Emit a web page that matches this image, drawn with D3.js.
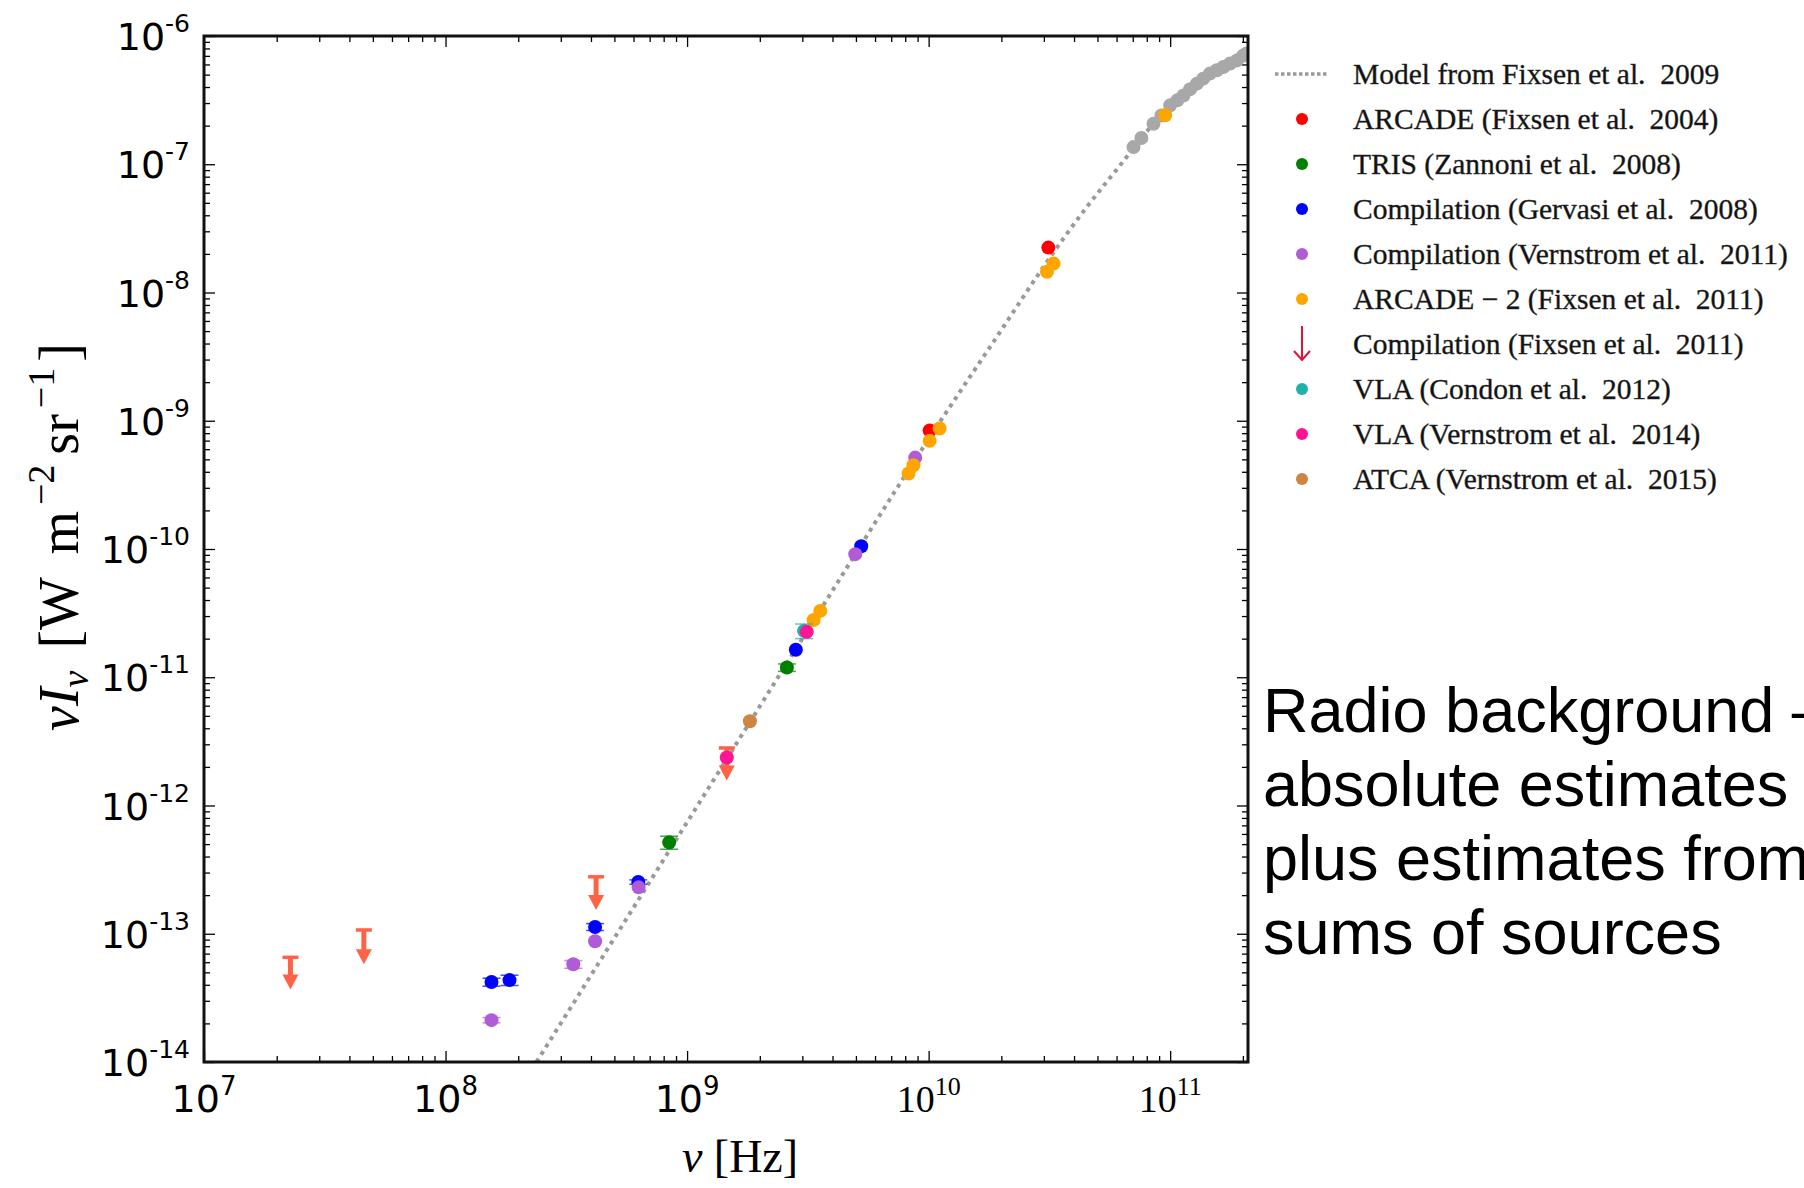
<!DOCTYPE html>
<html>
<head>
<meta charset="utf-8">
<script src="https://cdn.jsdelivr.net/npm/d3@7"></script>
<style>
  body { margin: 0; background: #fff; }
  svg { display: block; }
</style>
</head>
<body>
<svg id="chart"></svg>
<script>
// values: [frequency (Hz), nu*I_nu (W m^-2 sr^-1), error]
var modelLine = [[2.38e8, 1.0e-14], [1e9, 7.4e-13], [3e9, 2.0e-11], [1e10, 7.2e-10], [2e10, 5.1e-9],
  [3e10, 1.6e-8], [4.5e10, 4.6e-8], [6.2e10, 9.8e-8], [8e10, 1.8e-7], [1e11, 2.85e-7],
  [1.3e11, 4.4e-7], [1.6e11, 5.7e-7], [2.1e11, 7.0e-7]];
var firas = [[7.05e10, 1.36e-7], [7.6e10, 1.6e-7], [8.53e10, 2.07e-7], [9.2e10, 2.4e-7], [1.0e11, 2.88e-7],
  [1.07e11, 3.15e-7], [1.135e11, 3.44e-7], [1.21e11, 3.85e-7], [1.29e11, 4.25e-7], [1.37e11, 4.65e-7],
  [1.46e11, 5.09e-7], [1.56e11, 5.4e-7], [1.66e11, 5.73e-7], [1.77e11, 6.1e-7], [1.89e11, 6.45e-7],
  [2.0e11, 7.0e-7], [2.07e11, 7.3e-7]];
var arcade = [[3.13e10, 2.24e-8, 0], [1.01e10, 8.4e-10, 0]];
var tris = [[8.43e8, 5.16e-13, 0.6e-13], [2.59e9, 1.19e-11, 0.8e-12]];
var gervasi = [[1.55e8, 4.2e-14, 0.3e-14], [1.84e8, 4.35e-14, 0.4e-14], [4.16e8, 1.13e-13, 0.7e-14],
  [6.28e8, 2.53e-13, 0.1e-13], [2.82e9, 1.64e-11, 0], [5.26e9, 1.05e-10, 0]];
var vernstrom11 = [[1.55e8, 2.12e-14, 0.1e-14], [3.38e8, 5.78e-14, 0.4e-14], [4.16e8, 8.75e-14, 0],
  [6.3e8, 2.3e-13, 0], [4.97e9, 9.12e-11, 0], [8.8e9, 5.16e-10, 0]];
var arcade2 = [[3.34e9, 2.79e-11, 0], [3.56e9, 3.29e-11, 0], [8.26e9, 3.88e-10, 0], [8.65e9, 4.5e-10, 0],
  [1.01e10, 6.97e-10, 0], [1.11e10, 8.7e-10, 0], [3.09e10, 1.45e-8, 0], [3.29e10, 1.68e-8, 0], [9.53e10, 2.41e-7, 0]];
// upper limits: [frequency, cap value, arrow tip value]
var fixsenLimits = [[2.28e7, 6.55e-14, 3.67e-14], [4.59e7, 1.07e-13, 5.78e-14], [4.2e8, 2.78e-13, 1.53e-13], [1.46e9, 2.81e-12, 1.57e-12]];
var condon = [[3.05e9, 2.3e-11, 0.3e-11]];
var vernstrom14 = [[1.46e9, 2.37e-12, 0], [3.13e9, 2.26e-11, 0]];
var atca = [[1.82e9, 4.54e-12, 0]];

var legendLabels = ["Model from Fixsen et al.\u00a0 2009", "ARCADE (Fixsen et al.\u00a0 2004)", "TRIS (Zannoni et al.\u00a0 2008)",
  "Compilation (Gervasi et al.\u00a0 2008)", "Compilation (Vernstrom et al.\u00a0 2011)", "ARCADE \u2212 2 (Fixsen et al.\u00a0 2011)",
  "Compilation (Fixsen et al.\u00a0 2011)", "VLA (Condon et al.\u00a0 2012)", "VLA (Vernstrom et al.\u00a0 2014)", "ATCA (Vernstrom et al.\u00a0 2015)"];
var noteLines = ["Radio background \u2013", "absolute estimates", "plus estimates from", "sums of sources"];

var W = 1804, H = 1188;
var plotLeft = 204, plotRight = 1248, plotTop = 36, plotBottom = 1062;

var svg = d3.select('#chart').attr('width', W).attr('height', H);

var x = d3.scaleLog().domain([1e7, 2.1e11]).range([plotLeft, plotRight]);
var y = d3.scaleLog().domain([1e-14, 1e-6]).range([plotBottom, plotTop]);

function isDecade(v) {
  var l = Math.log10(v);
  return Math.abs(l - Math.round(l)) < 1e-6;
}
var xMajor = x.ticks().filter(isDecade), xMinor = x.ticks().filter(function (v) { return !isDecade(v); });
var yMajor = y.ticks().filter(isDecade), yMinor = y.ticks().filter(function (v) { return !isDecade(v); });

svg.append("defs").append("clipPath").attr("id", "plotclip")
  .append("rect").attr("x", plotLeft).attr("y", plotTop)
  .attr("width", plotRight - plotLeft).attr("height", plotBottom - plotTop);

// inward ticks on all four sides
function tickAxis(axis, tr, vals, size) {
  svg.append("g")
    .attr("transform", tr)
    .call(axis.tickValues(vals).tickSize(size).tickFormat(""))
    .call(function (g) {
      g.select(".domain").remove();
      g.selectAll(".tick line").attr("stroke", "#000").attr("stroke-width", 1.3);
    });
}
[[xMajor, -11], [xMinor, -6]].forEach(function (t) {
  tickAxis(d3.axisBottom(x), "translate(0," + plotBottom + ")", t[0], t[1]);
  tickAxis(d3.axisTop(x), "translate(0," + plotTop + ")", t[0], t[1]);
});
[[yMajor, -11], [yMinor, -6]].forEach(function (t) {
  tickAxis(d3.axisLeft(y), "translate(" + plotLeft + ",0)", t[0], t[1]);
  tickAxis(d3.axisRight(y), "translate(" + plotRight + ",0)", t[0], t[1]);
});

// tick labels 10^n
svg.append("g").selectAll("text").data(yMajor).enter().append("text")
  .attr("x", plotLeft - 14)
  .attr("y", function (d) { return y(d) + 14; })
  .attr("text-anchor", "end")
  .attr("font-family", "DejaVu Sans")
  .attr("font-size", 38)
  .each(function (d) {
    var t = d3.select(this);
    t.append("tspan").text("10");
    t.append("tspan").attr("dy", -18).attr("font-size", 25).text("-" + Math.abs(Math.round(Math.log10(d))));
  });

svg.append("g").selectAll("text").data(xMajor).enter().append("text")
  .attr("x", function (d) { return x(d); })
  .attr("y", plotBottom + 50)
  .attr("text-anchor", "middle")
  .attr("font-family", function (d) { return Math.log10(d) >= 9.5 ? "Liberation Serif" : "DejaVu Sans"; })
  .attr("font-size", 38)
  .each(function (d) {
    var t = d3.select(this);
    t.append("tspan").text("10");
    t.append("tspan").attr("dy", -17).attr("font-size", 26).text(Math.round(Math.log10(d)));
  });

// axis titles
var yTitle = svg.append("text")
  .attr("transform", "translate(78,537) rotate(-90)")
  .attr("text-anchor", "middle")
  .attr("font-family", "Liberation Serif")
  .attr("font-size", 56);
yTitle.append("tspan").attr("font-style", "italic").text("\u03bdI");
yTitle.append("tspan").attr("font-style", "italic").attr("font-size", 38).attr("dy", 10).text("\u03bd");
yTitle.append("tspan").attr("dy", -10).attr("dx", 8).text(" [W\u2009\u2009m");
yTitle.append("tspan").attr("font-size", 38).attr("dx", 6).attr("dy", -24).text("\u22122");
yTitle.append("tspan").attr("dy", 24).attr("dx", 10).text("sr");
yTitle.append("tspan").attr("font-size", 38).attr("dx", 6).attr("dy", -24).text("\u22121");
yTitle.append("tspan").attr("dy", 24).attr("dx", 6).text("]");

var xTitle = svg.append("text")
  .attr("x", 740).attr("y", 1172)
  .attr("text-anchor", "middle")
  .attr("font-family", "Liberation Serif")
  .attr("font-size", 46);
xTitle.append("tspan").attr("font-style", "italic").text("\u03bd");
xTitle.append("tspan").text(" [Hz]");

// plot area
var plot = svg.append("g").attr("clip-path", "url(#plotclip)");

var line = d3.line()
  .x(function (d) { return x(d[0]); })
  .y(function (d) { return y(d[1]); })
  .curve(d3.curveMonotoneX);

plot.append("path")
  .datum(modelLine)
  .attr("fill", "none")
  .attr("stroke", "#9a9a9a")
  .attr("stroke-width", 4)
  .attr("stroke-dasharray", "4,4.7")
  .attr("d", line);

plot.selectAll(".firas").data(firas).enter().append("circle")
  .attr("cx", function (d) { return x(d[0]); })
  .attr("cy", function (d) { return y(d[1]); })
  .attr("r", 7)
  .attr("fill", "#a8a8a8");

function drawSeries(data, color) {
  var g = plot.append("g");
  data.filter(function (d) { return d[2] > 0; }).forEach(function (d) {
    var cx = x(d[0]), y1 = y(d[1] - d[2]), y2 = y(d[1] + d[2]);
    g.append("line").attr("x1", cx).attr("x2", cx).attr("y1", y1).attr("y2", y2)
      .attr("stroke", color).attr("stroke-width", 1.5);
    [y1, y2].forEach(function (yy) {
      g.append("line").attr("x1", cx - 9).attr("x2", cx + 9).attr("y1", yy).attr("y2", yy)
        .attr("stroke", color).attr("stroke-width", 1.5).attr("opacity", 0.7);
    });
  });
  g.selectAll("circle").data(data).enter().append("circle")
    .attr("cx", function (d) { return x(d[0]); })
    .attr("cy", function (d) { return y(d[1]); })
    .attr("r", 7)
    .attr("fill", color);
}

drawSeries(arcade, "#ff0000");
drawSeries(tris, "#008000");
drawSeries(gervasi, "#0000ff");
drawSeries(vernstrom11, "#b05cd6");
drawSeries(arcade2, "#ffa500");

// upper limit arrows
var limits = plot.append("g");
fixsenLimits.forEach(function (d) {
  var cx = x(d[0]), yc = y(d[1]), yt = y(d[2]);
  limits.append("line").attr("x1", cx - 8).attr("x2", cx + 8).attr("y1", yc).attr("y2", yc)
    .attr("stroke", "#ff6347").attr("stroke-width", 3.5);
  limits.append("line").attr("x1", cx).attr("x2", cx).attr("y1", yc).attr("y2", yt - 12)
    .attr("stroke", "#ff6347").attr("stroke-width", 5);
  limits.append("path")
    .attr("d", "M" + (cx - 8) + "," + (yt - 15) + "L" + (cx + 8) + "," + (yt - 15) + "L" + cx + "," + yt + "Z")
    .attr("fill", "#ff6347");
});

drawSeries(condon, "#20b2aa");
drawSeries(vernstrom14, "#ff1493");
drawSeries(atca, "#cd853f");

// frame
svg.append("rect")
  .attr("x", plotLeft).attr("y", plotTop)
  .attr("width", plotRight - plotLeft).attr("height", plotBottom - plotTop)
  .attr("fill", "none").attr("stroke", "#111").attr("stroke-width", 3);

// legend
var legendColors = [null, "#ff0000", "#008000", "#0000ff", "#b05cd6", "#ffa500", "crimson", "#20b2aa", "#ff1493", "#cd853f"];
var legend = svg.append("g").attr("transform", "translate(1302,74)");
legendLabels.forEach(function (label, i) {
  var row = legend.append("g").attr("transform", "translate(0," + (i * 45) + ")");
  if (i === 0) {
    row.append("line").attr("x1", -27).attr("x2", 27).attr("y1", 0).attr("y2", 0)
      .attr("stroke", "#9a9a9a").attr("stroke-width", 3.5).attr("stroke-dasharray", "3.5,2.5");
  } else if (i === 6) {
    row.append("line").attr("x1", 0).attr("x2", 0).attr("y1", -18).attr("y2", 16)
      .attr("stroke", legendColors[i]).attr("stroke-width", 2);
    row.append("path").attr("d", "M-8,7L0,16L8,7").attr("fill", "none")
      .attr("stroke", legendColors[i]).attr("stroke-width", 2);
  } else {
    row.append("circle").attr("r", 6).attr("fill", legendColors[i]);
  }
  row.append("text")
    .attr("x", 51).attr("y", 10)
    .attr("font-family", "Liberation Serif")
    .attr("font-size", 29.5)
    .attr("fill", "#111")
    .attr("stroke", "#333")
    .attr("stroke-width", 0.4)
    .text(label);
});

// side note
svg.append("g").selectAll("text").data(noteLines).enter().append("text")
  .attr("x", 1263)
  .attr("y", function (d, i) { return 732 + i * 74; })
  .attr("font-family", "Liberation Sans")
  .attr("font-size", 63)
  .attr("fill", "#000")
  .text(function (d) { return d; });
</script>
</body>
</html>
